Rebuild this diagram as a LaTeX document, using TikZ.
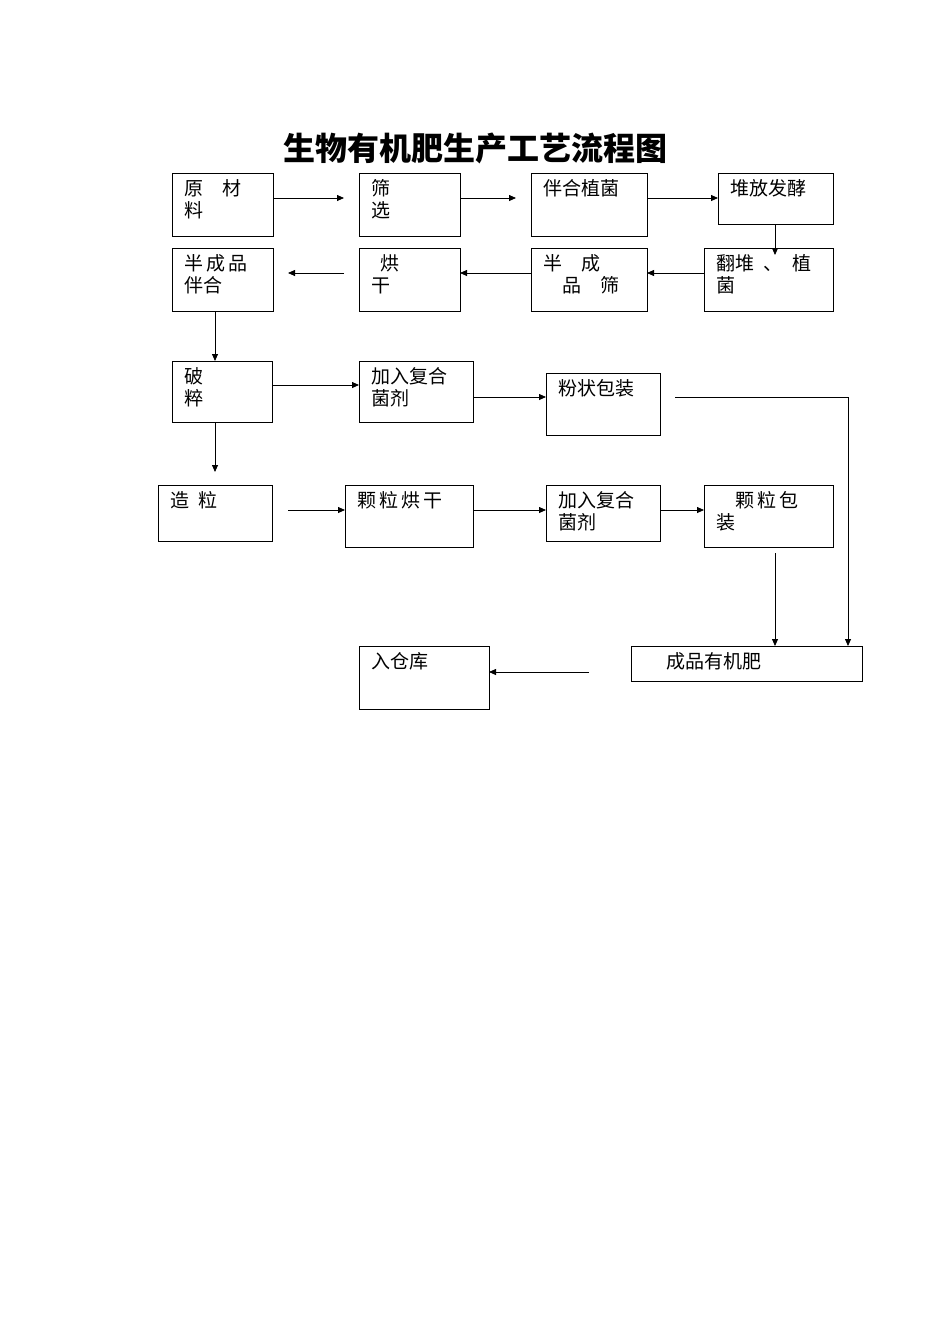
\documentclass[tikz,border=0pt]{standalone}
\usepackage{fontspec}
\newfontfamily\cjk{Noto Sans CJK SC}
\usetikzlibrary{arrows.meta}
\begin{document}
\begin{tikzpicture}[x=1pt,y=-1pt,
  bx/.style={draw,line width=0.8pt},
  tx/.style={anchor=north west,inner sep=0pt,font=\cjk\fontsize{19}{22}\selectfont,align=left},
  ar/.style={-{Triangle[length=7pt,width=6pt]},line width=0.8pt}]
\useasboundingbox (0,0) rectangle (950,1344);
\node[font=\cjk\bfseries\fontsize{32}{36}\selectfont] (title) at (475,148) {生物有机肥生产工艺流程图};
\newcommand{\bxx}[6]{\draw[bx] (#2,#3) rectangle (#4,#5); \coordinate (#1) at (#2,#3); \node[tx] (#1t) at (#2+12,#3+6) {#6};}
\bxx{A}{172}{173}{273}{236}{原\quad 材\\料}
\bxx{B}{359}{173}{460}{236}{筛\\选}
\bxx{C}{531}{173}{647}{236}{伴合植菌}
\bxx{D}{718}{173}{833}{224}{堆放发酵}
\bxx{E}{704}{248}{833}{311}{翻堆\enspace 、\enspace 植\\菌}
\bxx{F}{531}{248}{647}{311}{半\quad 成\\\quad 品\quad 筛}
\bxx{G}{359}{248}{460}{311}{\enspace 烘\\干}
\bxx{H}{172}{248}{273}{311}{半\,成\,品\\伴合}
\bxx{I}{172}{361}{272}{422}{破\\粹}
\bxx{J}{359}{361}{473}{422}{加入复合\\菌剂}
\bxx{K}{546}{373}{660}{435}{粉状包装}
\bxx{L}{158}{485}{272}{541}{造\enspace 粒}
\bxx{M}{345}{485}{473}{547}{颗\,粒\,烘\,干}
\bxx{N}{546}{485}{660}{541}{加入复合\\菌剂}
\bxx{O}{704}{485}{833}{547}{\quad 颗\,粒\,包\\装}
\bxx{P}{631}{646}{862}{681}{\quad\ 成品有机肥}
\bxx{Q}{359}{646}{489}{709}{入仓库}
\draw[ar] (273,198) -- (344,198);
\draw[ar] (460,198) -- (516,198);
\draw[ar] (647,198) -- (718,198);
\draw[ar] (775,224) -- (775,255);
\draw[ar] (704,273) -- (647,273);
\draw[ar] (531,273) -- (460,273);
\draw[ar] (344,273) -- (288,273);
\draw[ar] (215,311) -- (215,361);
\draw[ar] (272,385) -- (359,385);
\draw[ar] (473,397) -- (546,397);
\draw[ar] (675,397) -- (848,397) -- (848,646);
\draw[ar] (215,422) -- (215,472);
\draw[ar] (288,510) -- (345,510);
\draw[ar] (473,510) -- (546,510);
\draw[ar] (660,510) -- (704,510);
\draw[ar] (775,553) -- (775,646);
\draw[ar] (589,672) -- (489,672);
\end{tikzpicture}
\end{document}
